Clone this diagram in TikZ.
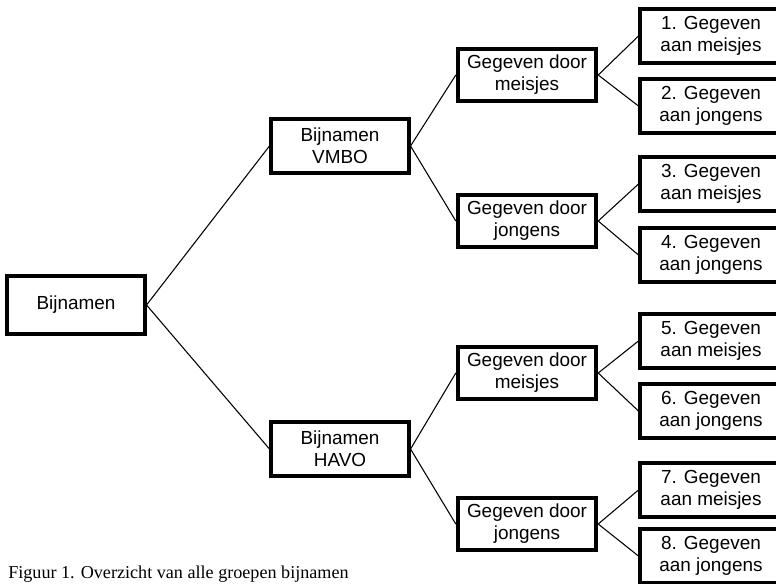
\documentclass[tikz,border=0pt]{standalone}
\usepackage{fontspec}
\setmainfont{Liberation Sans}
\newfontfamily\captionfont{Liberation Serif}

\begin{document}
\begin{tikzpicture}[x=0.75pt,y=-0.75pt,
    box/.style={draw, line width=2.8pt, align=center, inner sep=0pt,
      font=\fontsize{14.2}{16.4}\selectfont},
    leaf/.style={box, minimum width=106pt, minimum height=41pt},
    link/.style={line width=0.8pt}]
    % Page frame (picture is cut at its edges)
    \clip (0,0) rectangle (776,583);

    % Root
    \node[box, minimum width=103pt, minimum height=43pt] (root) at (76,305) {Bijnamen};

    % School types
    \node[box, minimum width=103pt, minimum height=41pt] (vmbo) at (340,146) {Bijnamen\\VMBO};
    \node[box, minimum width=103pt, minimum height=41pt] (havo) at (340,449) {Bijnamen\\HAVO};

    % Given by
    \node[box, minimum width=104pt, minimum height=39pt] (vm) at (527,75)  {Gegeven door\\meisjes};
    \node[box, minimum width=104pt, minimum height=39pt] (vj) at (527,221) {Gegeven door\\jongens};
    \node[box, minimum width=104pt, minimum height=39pt] (hm) at (527,373) {Gegeven door\\meisjes};
    \node[box, minimum width=104pt, minimum height=39pt] (hj) at (527,524) {Gegeven door\\jongens};

    % Given to (right border runs past the edge)
    \node[leaf] (g1) at (711,36)  {1. Gegeven\\aan meisjes};
    \node[leaf] (g2) at (711,106) {2. Gegeven\\aan jongens};
    \node[leaf] (g3) at (711,184) {3. Gegeven\\aan meisjes};
    \node[leaf] (g4) at (711,255) {4. Gegeven\\aan jongens};
    \node[leaf] (g5) at (711,341) {5. Gegeven\\aan meisjes};
    \node[leaf] (g6) at (711,411) {6. Gegeven\\aan jongens};
    \node[leaf] (g7) at (711,490) {7. Gegeven\\aan meisjes};
    \node[leaf] (g8) at (711,556) {8. Gegeven\\aan jongens};

    % Branches
    \draw[link] (root.east) -- (vmbo.west);
    \draw[link] (root.east) -- (havo.west);
    \draw[link] (vmbo.east) -- (vm.west);
    \draw[link] (vmbo.east) -- (vj.west);
    \draw[link] (havo.east) -- (hm.west);
    \draw[link] (havo.east) -- (hj.west);
    \foreach \from/\a/\b in {vm/g1/g2, vj/g3/g4, hm/g5/g6, hj/g7/g8} {
      \draw[link] (\from.east) -- (\a.west);
      \draw[link] (\from.east) -- (\b.west);
    }

    % Caption
    \node[anchor=base west, inner sep=0pt, font=\captionfont\fontsize{13.6}{16}\selectfont] (caption)
      at (8,578) {Figuur 1. Overzicht van alle groepen bijnamen};
\end{tikzpicture}
\end{document}
